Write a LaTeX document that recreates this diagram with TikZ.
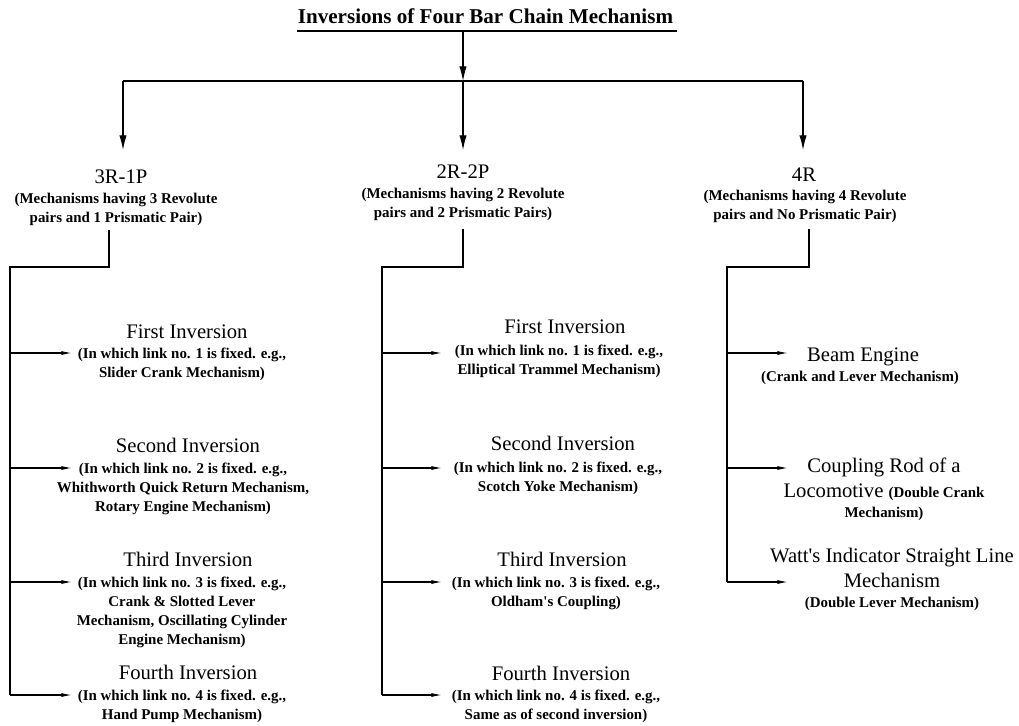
\documentclass[tikz,border=0pt]{standalone}
\usepackage{fontspec}
\setmainfont{Liberation Serif}
\usetikzlibrary{arrows.meta}

\newcommand{\smallnote}{\bfseries\fontsize{11.2}{14.25}\selectfont}

\tikzset{
    ttl/.style={font=\bfseries\fontsize{15.8}{19}\selectfont, inner sep=0pt, anchor=base},
    head/.style={font=\fontsize{15.5}{18.75}\selectfont, inner sep=0pt, anchor=base},
    note/.style={font=\smallnote, align=center, inner sep=0pt, anchor=north},
    big/.style={font=\fontsize{15.5}{18.75}\selectfont, align=center, inner sep=0pt, anchor=north},
    wire/.style={line width=0.8pt},
    ptr/.style={wire, -{Latex[length=11pt,width=5.5pt]}},
    twig/.style={wire, -{Latex[length=8pt,width=3pt]}}
}

\begin{document}
\begin{tikzpicture}[x=0.75pt, y=-0.75pt]

        \useasboundingbox (0,0) rectangle (1019,725);

        % title
        \node[ttl] (ttl) at (485.5,23) {Inversions of Four Bar Chain Mechanism};
        \coordinate (ulL) at (297,31);
        \coordinate (ulR) at (677,31);
        \coordinate (foot) at (463,31);
        \coordinate (hub)  at (463,81);
        \coordinate (lhub) at (123,81);
        \coordinate (rhub) at (803,81);
        \coordinate (lcol) at (123,150);
        \coordinate (mcol) at (463,150);
        \coordinate (rcol) at (803,150);

        \draw[wire] (ulL) -- (ulR);
        \draw[ptr]  (foot) -- (hub);
        \draw[wire] (lhub) -- (rhub);
        \draw[ptr]  (lhub) -- (lcol);
        \draw[ptr]  (hub)  -- (mcol);
        \draw[ptr]  (rhub) -- (rcol);

        % groups
        \node[head] (lhd) at (121,183) {3R-1P};
        \node[note] (lnt) at (116,193) {(Mechanisms having 3 Revolute\\pairs and 1 Prismatic Pair)};
        \node[head] (mhd) at (463,178) {2R-2P};
        \node[note] (mnt) at (463,188) {(Mechanisms having 2 Revolute\\pairs and 2 Prismatic Pairs)};
        \node[head] (rhd) at (804,181) {4R};
        \node[note] (rnt) at (805,190) {(Mechanisms having 4 Revolute\\pairs and No Prismatic Pair)};

        % 3R-1P
        \coordinate (ltop)  at (109,230);
        \coordinate (lknee) at (109,267);
        \coordinate (lbus)  at (10,267);
        \coordinate (lend)  at (10,695);
        \coordinate (l1) at (72,353);
        \coordinate (l2) at (72,468);
        \coordinate (l3) at (72,582);
        \coordinate (l4) at (72,695);

        \node[head] (l1h) at (187,338) {First Inversion};
        \node[note] (l1n) at (182,348) {(In which link no. 1 is fixed. e.g.,\\Slider Crank Mechanism)};
        \node[head] (l2h) at (188,452) {Second Inversion};
        \node[note] (l2n) at (183,463) {(In which link no. 2 is fixed. e.g.,\\Whithworth Quick Return Mechanism,\\Rotary Engine Mechanism)};
        \node[head] (l3h) at (188,566) {Third Inversion};
        \node[note] (l3n) at (182,577) {(In which link no. 3 is fixed. e.g.,\\Crank \& Slotted Lever\\Mechanism, Oscillating Cylinder\\Engine Mechanism)};
        \node[head] (l4h) at (188,679) {Fourth Inversion};
        \node[note] (l4n) at (182,690) {(In which link no. 4 is fixed. e.g.,\\Hand Pump Mechanism)};

        \draw[wire] (ltop) -- (lknee) -- (lbus) -- (lend);
        \path (lbus |- l1) edge[twig] (l1)
              (lbus |- l2) edge[twig] (l2)
              (lbus |- l3) edge[twig] (l3)
              (lend)       edge[twig] (l4);

        % 2R-2P
        \coordinate (mtop)  at (463,229);
        \coordinate (mknee) at (463,267);
        \coordinate (mbus)  at (382,267);
        \coordinate (mend)  at (382,695);
        \coordinate (m1) at (442,353);
        \coordinate (m2) at (442,468);
        \coordinate (m3) at (442,582);
        \coordinate (m4) at (442,695);

        \node[head] (m1h) at (565,333) {First Inversion};
        \node[note] (m1n) at (559,345) {(In which link no. 1 is fixed. e.g.,\\Elliptical Trammel Mechanism)};
        \node[head] (m2h) at (563,450) {Second Inversion};
        \node[note] (m2n) at (558,462) {(In which link no. 2 is fixed. e.g.,\\Scotch Yoke Mechanism)};
        \node[head] (m3h) at (562,566) {Third Inversion};
        \node[note] (m3n) at (556,577) {(In which link no. 3 is fixed. e.g.,\\Oldham\textquotesingle s Coupling)};
        \node[head] (m4h) at (561,680) {Fourth Inversion};
        \node[note] (m4n) at (556,690) {(In which link no. 4 is fixed. e.g.,\\Same as of second inversion)};

        \draw[wire] (mtop) -- (mknee) -- (mbus) -- (mend);
        \path (mbus |- m1) edge[twig] (m1)
              (mbus |- m2) edge[twig] (m2)
              (mbus |- m3) edge[twig] (m3)
              (mend)       edge[twig] (m4);

        % 4R
        \coordinate (rtop)  at (809,229);
        \coordinate (rknee) at (809,267);
        \coordinate (rbus)  at (727,267);
        \coordinate (rend)  at (727,582);
        \coordinate (r1) at (788,353);
        \coordinate (r2) at (788,468);
        \coordinate (r3) at (788,582);

        \node[head] (r1h) at (863,361) {Beam Engine};
        \node[note] (r1n) at (860,371) {(Crank and Lever Mechanism)};
        \node[big]  (r2h) at (884,458) {Coupling Rod of a\\Locomotive {\smallnote (Double Crank}\\[-3.75pt]{\smallnote Mechanism)}};
        \node[big]  (r3h) at (892,548) {Watt\textquotesingle s Indicator Straight Line\\Mechanism\\[-3.75pt]{\smallnote (Double Lever Mechanism)}};

        \draw[wire] (rtop) -- (rknee) -- (rbus) -- (rend);
        \path (rbus |- r1) edge[twig] (r1)
              (rbus |- r2) edge[twig] (r2)
              (rend)       edge[twig] (r3);

\end{tikzpicture}
\end{document}
